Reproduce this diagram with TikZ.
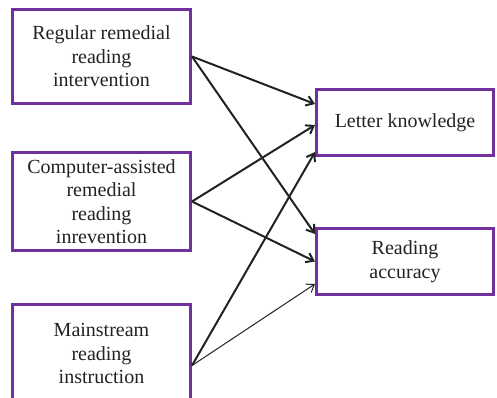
\documentclass[tikz,border=0pt]{standalone}
\usepackage{fontspec}
\setmainfont{Liberation Serif}
\usepackage{xcolor}
\usetikzlibrary{arrows.meta, positioning}
\definecolor{boxpurple}{HTML}{7030A0}
\definecolor{inkgray}{HTML}{222222}

\begin{document}
\begin{tikzpicture}[
    x=1pt, y=1pt,
    font=\fontsize{20}{23.5}\selectfont,
    text=inkgray,
    node distance=46pt and 123pt,
    srcbox/.style={rectangle, draw=boxpurple, line width=3pt, align=center,
                   minimum width=178pt, inner sep=2pt},
    outbox/.style={rectangle, draw=boxpurple, line width=3pt, align=center,
                   minimum width=177pt, minimum height=66pt, inner sep=2pt},
    arr/.style={-{Straight Barb[length=7pt,width=10pt]}, line width=#1, draw=inkgray},
    arr/.default=2pt
]
\useasboundingbox (0,0) rectangle (497,-398);

\node[srcbox, minimum height=94pt] at (101.5,-56.5)
    (regular)    {Regular remedial\\reading\\intervention};
\node[srcbox, minimum height=98pt, below=46pt of regular]
    (computer)   {Computer-assisted\\remedial\\reading\\inrevention};
\node[srcbox, minimum height=98pt, below=51pt of computer]
    (mainstream) {Mainstream\\reading\\instruction};

\node[outbox, right=123pt of regular, yshift=-66pt]
    (letter)     {Letter knowledge};
\node[outbox, below=70pt of letter]
    (accuracy)   {Reading\\accuracy};

% effects of each instruction type
\draw[arr] (regular.east)  -- ([yshift=18.5pt]letter.west);
\draw[arr] (regular.east)  -- ([yshift=27.5pt]accuracy.west);
\draw[arr] (computer.east) -- ([yshift=-2.5pt]letter.west);
\draw[arr] (computer.east) -- (accuracy.west);
\draw[arr] ([yshift=-12pt]mainstream.east) -- ([yshift=-29.5pt]letter.west);
\draw[arr=1pt] ([yshift=-12pt]mainstream.east) -- ([yshift=-22.5pt]accuracy.west);
\end{tikzpicture}
\end{document}
